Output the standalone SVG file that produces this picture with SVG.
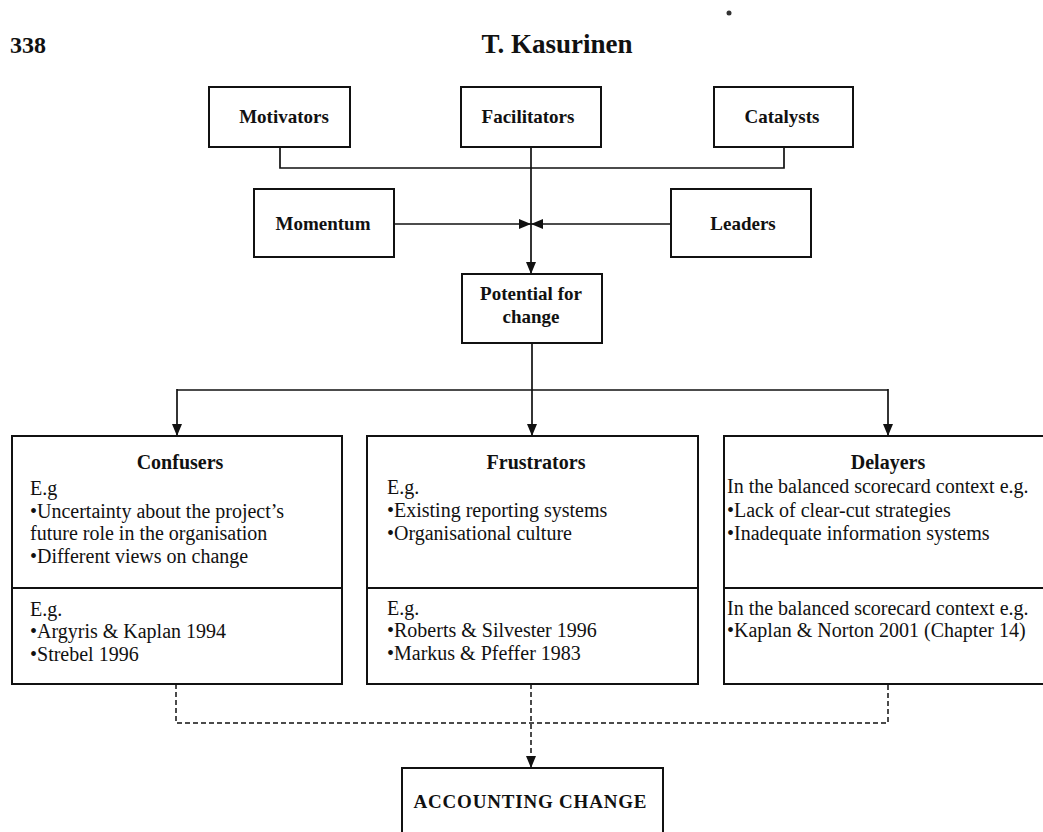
<svg xmlns="http://www.w3.org/2000/svg" width="1043" height="832" viewBox="0 0 1043 832">
<defs>
<marker id="arr" markerUnits="userSpaceOnUse" markerWidth="12" markerHeight="10" viewBox="0 0 12 10" refX="12" refY="5" orient="auto">
<path d="M0,0 L12,5 L0,10 Z" fill="#111"/>
</marker>
<style>
.box{fill:#fff;stroke:#111;stroke-width:2}
.ln{fill:none;stroke:#111;stroke-width:1.7}
.dash{fill:none;stroke:#111;stroke-width:1.5;stroke-dasharray:5 3}
.b{font-family:"Liberation Serif","Times New Roman",serif;font-weight:bold;font-size:19px;fill:#111}
.t{font-family:"Liberation Serif","Times New Roman",serif;font-size:20px;fill:#111}
.c{text-anchor:middle}
.h20{font-size:20px}
</style>
</defs>
<rect width="1043" height="832" fill="#fff"/>
<g id="header">
<text class="b" x="10" y="53" style="font-size:24px">338</text>
<text class="b c" x="557" y="53" style="font-size:27px">T. Kasurinen</text>
<circle cx="729" cy="13" r="2.5" fill="#333"/>
</g>
<g id="connectors">
<polyline class="ln" points="280,147 280,168 784,168 784,147"/>
<line class="ln" x1="531" y1="147" x2="531" y2="274" marker-end="url(#arr)"/>
<line class="ln" x1="394" y1="224" x2="531" y2="224" marker-end="url(#arr)"/>
<line class="ln" x1="671" y1="224" x2="531" y2="224" marker-end="url(#arr)"/>
<line class="ln" x1="532" y1="343" x2="532" y2="436" marker-end="url(#arr)"/>
<line class="ln" x1="177" y1="390" x2="888" y2="390"/>
<line class="ln" x1="177" y1="389" x2="177" y2="436" marker-end="url(#arr)"/>
<line class="ln" x1="888" y1="389" x2="888" y2="436" marker-end="url(#arr)"/>
<polyline class="dash" points="176,684 176,723 888,723 888,684"/>
<line class="dash" x1="531" y1="684" x2="531" y2="768" marker-end="url(#arr)"/>
</g>
<g id="motivators">
<rect class="box" x="209" y="87" width="141" height="60"/>
<text class="b c" x="284" y="123">Motivators</text>
</g>
<g id="facilitators">
<rect class="box" x="461" y="87" width="140" height="60"/>
<text class="b c" x="528" y="123">Facilitators</text>
</g>
<g id="catalysts">
<rect class="box" x="714" y="87" width="139" height="60"/>
<text class="b c" x="782" y="123">Catalysts</text>
</g>
<g id="momentum">
<rect class="box" x="254" y="189" width="140" height="68"/>
<text class="b c" x="323" y="230">Momentum</text>
</g>
<g id="leaders">
<rect class="box" x="671" y="189" width="140" height="68"/>
<text class="b c" x="743" y="230">Leaders</text>
</g>
<g id="potential">
<rect class="box" x="462" y="274" width="140" height="69"/>
<text class="b c" x="531" y="300">Potential for</text>
<text class="b c" x="531" y="323">change</text>
</g>
<g id="confusers">
<rect class="box" x="12" y="436" width="330" height="248"/>
<line class="ln" x1="12" y1="588" x2="342" y2="588" style="stroke-width:2"/>
<text class="b c h20" x="180" y="469">Confusers</text>
<text class="t" x="30" y="495">E.g</text>
<text class="t" x="30" y="518">•Uncertainty about the project’s</text>
<text class="t" x="30" y="540">future role in the organisation</text>
<text class="t" x="30" y="563">•Different views on change</text>
<text class="t" x="30" y="616">E.g.</text>
<text class="t" x="30" y="638">•Argyris &amp; Kaplan 1994</text>
<text class="t" x="30" y="661">•Strebel 1996</text>
</g>
<g id="frustrators">
<rect class="box" x="367" y="436" width="331" height="248"/>
<line class="ln" x1="367" y1="588" x2="698" y2="588" style="stroke-width:2"/>
<text class="b c h20" x="536" y="469">Frustrators</text>
<text class="t" x="387" y="494">E.g.</text>
<text class="t" x="387" y="517">•Existing reporting systems</text>
<text class="t" x="387" y="540">•Organisational culture</text>
<text class="t" x="387" y="615">E.g.</text>
<text class="t" x="387" y="637">•Roberts &amp; Silvester 1996</text>
<text class="t" x="387" y="660">•Markus &amp; Pfeffer 1983</text>
</g>
<g id="delayers">
<rect class="box" x="724" y="436" width="325" height="248"/>
<line class="ln" x1="724" y1="588" x2="1049" y2="588" style="stroke-width:2"/>
<text class="b c h20" x="888" y="469">Delayers</text>
<text class="t" x="727" y="493">In the balanced scorecard context e.g.</text>
<text class="t" x="727" y="517">•Lack of clear-cut strategies</text>
<text class="t" x="727" y="540">•Inadequate information systems</text>
<text class="t" x="727" y="615">In the balanced scorecard context e.g.</text>
<text class="t" x="727" y="637">•Kaplan &amp; Norton 2001 (Chapter 14)</text>
</g>
<g id="accounting">
<rect class="box" x="402" y="768" width="261" height="80"/>
<text class="b c" x="530" y="808" textLength="233">ACCOUNTING CHANGE</text>
</g>
</svg>
